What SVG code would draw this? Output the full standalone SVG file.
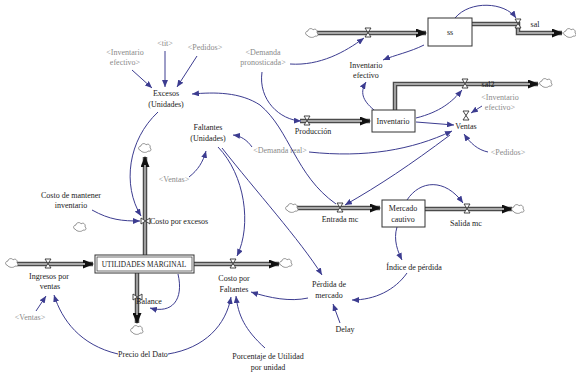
<svg xmlns="http://www.w3.org/2000/svg" xmlns:xlink="http://www.w3.org/1999/xlink" width="576" height="377" viewBox="0 0 576 377">
<style>
.t{font-family:"Liberation Serif",serif;font-size:8px;fill:#1a1a1a;text-anchor:middle}
.s{fill:#8a8a8a}
.l{fill:none;stroke:#3c3c90;stroke-width:1;marker-end:url(#ah)}
.po{fill:none;stroke:#4a4a4a;stroke-width:4.5}
.pi{fill:none;stroke:#a8a8a8;stroke-width:1.8}
.box{fill:#fff;stroke:#333;stroke-width:1}
.cl{fill:#fff;stroke:#777;stroke-width:0.8}
.v{fill:#fff;stroke:#333;stroke-width:0.9}
</style>
<defs>
<marker id="ah" markerUnits="userSpaceOnUse" markerWidth="7" markerHeight="6" refX="7" refY="3" orient="auto"><path d="M0,0 L7,3 L0,6 Z" fill="#3c3c90"/></marker>
<marker id="fa" markerUnits="userSpaceOnUse" markerWidth="11" markerHeight="9" refX="10" refY="4.5" orient="auto"><path d="M0,0 L11,4.5 L0,9 Z" fill="#111"/></marker>
<path id="cloud" class="cl" d="M-5,2 C-7,2 -7,-2 -4,-2 C-4,-5 1,-5 1,-3 C3,-5 6,-3 5,0 C7,1 6,4 3,3 C2,5 -3,5 -5,2 Z"/>
<path id="valve" class="v" d="M-3,-5 L3,-5 L-3,4 L3,4 Z"/>
</defs>
<rect width="576" height="377" fill="#fff"/>

<g id="pipes">
<path class="po" d="M317,33 L426,33" marker-end="url(#fa)"/><path class="pi" d="M317,33 L418,33"/>
<path class="po" d="M472,24 L518,24 L518,33 L562,33" marker-end="url(#fa)"/><path class="pi" d="M472,24 L518,24 L518,33 L554,33"/>
<path class="po" d="M300,121 L370,121" marker-end="url(#fa)"/><path class="pi" d="M300,121 L362,121"/>
<path class="po" d="M395,110 L395,84 L538,84" marker-end="url(#fa)"/><path class="pi" d="M395,110 L395,84 L530,84"/>
<path class="po" d="M297,208 L380,208" marker-end="url(#fa)"/><path class="pi" d="M297,208 L372,208"/>
<path class="po" d="M425,209 L512,209" marker-end="url(#fa)"/><path class="pi" d="M425,209 L504,209"/>
<path class="po" d="M17,264 L93,264" marker-end="url(#fa)"/><path class="pi" d="M17,264 L85,264"/>
<path class="po" d="M194,264 L279,264" marker-end="url(#fa)"/><path class="pi" d="M194,264 L271,264"/>
<path class="po" d="M145,255 L145,157" marker-end="url(#fa)"/><path class="pi" d="M145,255 L145,165"/>
<path class="po" d="M137,273 L137,323" marker-end="url(#fa)"/><path class="pi" d="M137,273 L137,315"/>
</g>

<g id="clouds">
<use xlink:href="#cloud" x="312" y="33"/>
<use xlink:href="#cloud" x="570" y="33"/>
<use xlink:href="#cloud" x="546" y="83"/>
<use xlink:href="#cloud" x="292" y="208"/>
<use xlink:href="#cloud" x="518" y="209"/>
<use xlink:href="#cloud" x="12" y="263"/>
<use xlink:href="#cloud" x="286" y="263"/>
<use xlink:href="#cloud" x="145" y="148"/>
<use xlink:href="#cloud" x="137" y="330"/>
<use xlink:href="#cloud" x="80" y="227"/>
</g>

<g id="connectors">
<path class="l" d="M455,18 C470,0 505,2 516,18"/>
<path class="l" d="M424,45 C410,52 395,55 383,60"/>
<path class="l" d="M374,110 C362,100 360,92 366,82"/>
<path class="l" d="M290,64 C320,66 345,52 364,38"/>
<path class="l" d="M262,72 C258,100 280,120 301,121"/>
<path class="l" d="M416,118 C440,112 452,102 462,90"/>
<path class="l" d="M416,122 L454,125"/>
<path class="l" d="M482,106 L471,113"/>
<path class="l" d="M488,152 C478,150 470,143 464,134"/>
<path class="l" d="M309,152 C365,158 412,150 452,131"/>
<path class="l" d="M450,135 C410,165 380,185 345,205"/>
<path class="l" d="M336,204 C295,175 290,130 260,105 C240,92 215,92 192,94"/>
<path class="l" d="M407,200 C420,180 445,178 463,203"/>
<path class="l" d="M397,227 C393,240 398,252 402,260"/>
<path class="l" d="M407,273 C395,290 375,300 352,300"/>
<path class="l" d="M340,323 L333,304"/>
<path class="l" d="M222,148 C255,190 300,240 322,275"/>
<path class="l" d="M308,298 C290,302 270,298 251,292"/>
<path class="l" d="M218,147 C245,175 252,225 237,256"/>
<path class="l" d="M252,147 C247,140 241,136 233,135"/>
<path class="l" d="M189,177 C198,170 203,162 206,151"/>
<path class="l" d="M132,70 L152,88"/>
<path class="l" d="M165,51 L165,87"/>
<path class="l" d="M197,56 L177,87"/>
<path class="l" d="M158,112 C128,140 122,185 141,216"/>
<path class="l" d="M92,210 C110,220 122,221 140,221"/>
<path class="l" d="M178,274 C184,300 172,314 150,308"/>
<path class="l" d="M118,354 C80,345 62,320 54,295"/>
<path class="l" d="M36,311 L46,296"/>
<path class="l" d="M168,354 C205,348 226,325 231,297"/>
<path class="l" d="M265,348 C245,330 238,315 236,296"/>
</g>

<g id="valves">
<use xlink:href="#valve" x="368" y="33"/>
<use xlink:href="#valve" x="518" y="24"/>
<use xlink:href="#valve" x="307" y="121"/>
<use xlink:href="#valve" x="465" y="84"/>
<use xlink:href="#valve" x="340" y="208"/>
<use xlink:href="#valve" x="467" y="209"/>
<use xlink:href="#valve" x="48" y="264"/>
<use xlink:href="#valve" x="233" y="264"/>
<use xlink:href="#valve" transform="translate(145,221) rotate(90)"/>
<use xlink:href="#valve" transform="translate(137,297) rotate(90)"/>
</g>

<g id="ss"><rect class="box" x="428" y="18" width="44" height="28"/><text class="t" x="450" y="35">ss</text></g>
<g id="sal"><text class="t" x="535" y="27">sal</text></g>
<g id="inventario"><rect class="box" x="372" y="110" width="43" height="22"/><text class="t" x="393" y="124">Inventario</text></g>
<g id="inventario-efectivo"><text class="t" x="366" y="68">Inventario</text><text class="t" x="366" y="78">efectivo</text></g>
<g id="sal2"><text class="t" x="488" y="87">sal2</text></g>
<g id="produccion"><text class="t" x="313" y="134">Producción</text></g>
<g id="ventas"><path class="v" transform="translate(466,116)" d="M-3,-5 L3,-5 L-3,4 L3,4 Z"/><text class="t" x="466" y="129">Ventas</text></g>
<g id="sh-inv-ef-2"><text class="t s" x="500" y="100">&lt;Inventario</text><text class="t s" x="500" y="110">efectivo&gt;</text></g>
<g id="sh-pedidos-2"><text class="t s" x="508" y="155">&lt;Pedidos&gt;</text></g>
<g id="sh-demanda-pron"><text class="t s" x="263" y="55">&lt;Demanda</text><text class="t s" x="263" y="65">pronosticada&gt;</text></g>
<g id="sh-inv-ef-1"><text class="t s" x="125" y="55">&lt;Inventario</text><text class="t s" x="125" y="65">efectivo&gt;</text></g>
<g id="sh-tit"><text class="t s" x="165" y="46">&lt;tit&gt;</text></g>
<g id="sh-pedidos-1"><text class="t s" x="205" y="50">&lt;Pedidos&gt;</text></g>
<g id="excesos"><text class="t" x="166" y="96">Excesos</text><text class="t" x="166" y="107">(Unidades)</text></g>
<g id="faltantes"><text class="t" x="208" y="130">Faltantes</text><text class="t" x="208" y="141">(Unidades)</text></g>
<g id="sh-demanda-real"><text class="t s" x="280" y="153">&lt;Demanda real&gt;</text></g>
<g id="sh-ventas-1"><text class="t s" x="174" y="182">&lt;Ventas&gt;</text></g>
<g id="costo-mantener"><text class="t" x="71" y="198">Costo de mantener</text><text class="t" x="71" y="208">inventario</text></g>
<g id="costo-excesos"><text class="t" x="150" y="224" style="text-anchor:start">Costo por excesos</text></g>
<g id="mercado-cautivo"><rect class="box" x="382" y="200" width="43" height="27"/><text class="t" x="403" y="211">Mercado</text><text class="t" x="403" y="222">cautivo</text></g>
<g id="entrada-mc"><text class="t" x="340" y="222">Entrada mc</text></g>
<g id="salida-mc"><text class="t" x="466" y="226">Salida mc</text></g>
<g id="indice-perdida"><text class="t" x="414" y="270">Índice de pérdida</text></g>
<g id="perdida-mercado"><text class="t" x="329" y="287">Pérdida de</text><text class="t" x="329" y="298">mercado</text></g>
<g id="delay"><text class="t" x="345" y="332">Delay</text></g>
<g id="utilidad"><rect class="box" x="95" y="255" width="99" height="18"/><rect x="97" y="257" width="95" height="14" fill="none" stroke="#333" stroke-width="0.7"/><text class="t" x="144" y="267" style="font-size:7.3px">UTILIDADES MARGINAL</text></g>
<g id="ingresos"><text class="t" x="49" y="279">Ingresos por</text><text class="t" x="50" y="289">ventas</text></g>
<g id="sh-ventas-2"><text class="t s" x="30" y="320">&lt;Ventas&gt;</text></g>
<g id="balance"><text class="t" x="149" y="304">Balance</text></g>
<g id="costo-faltantes"><text class="t" x="234" y="281">Costo por</text><text class="t" x="234" y="292">Faltantes</text></g>
<g id="precio"><text class="t" x="143" y="357">Precio del Dato</text></g>
<g id="porcentaje"><text class="t" x="268" y="359">Porcentaje de Utilidad</text><text class="t" x="268" y="370">por unidad</text></g>
</svg>
